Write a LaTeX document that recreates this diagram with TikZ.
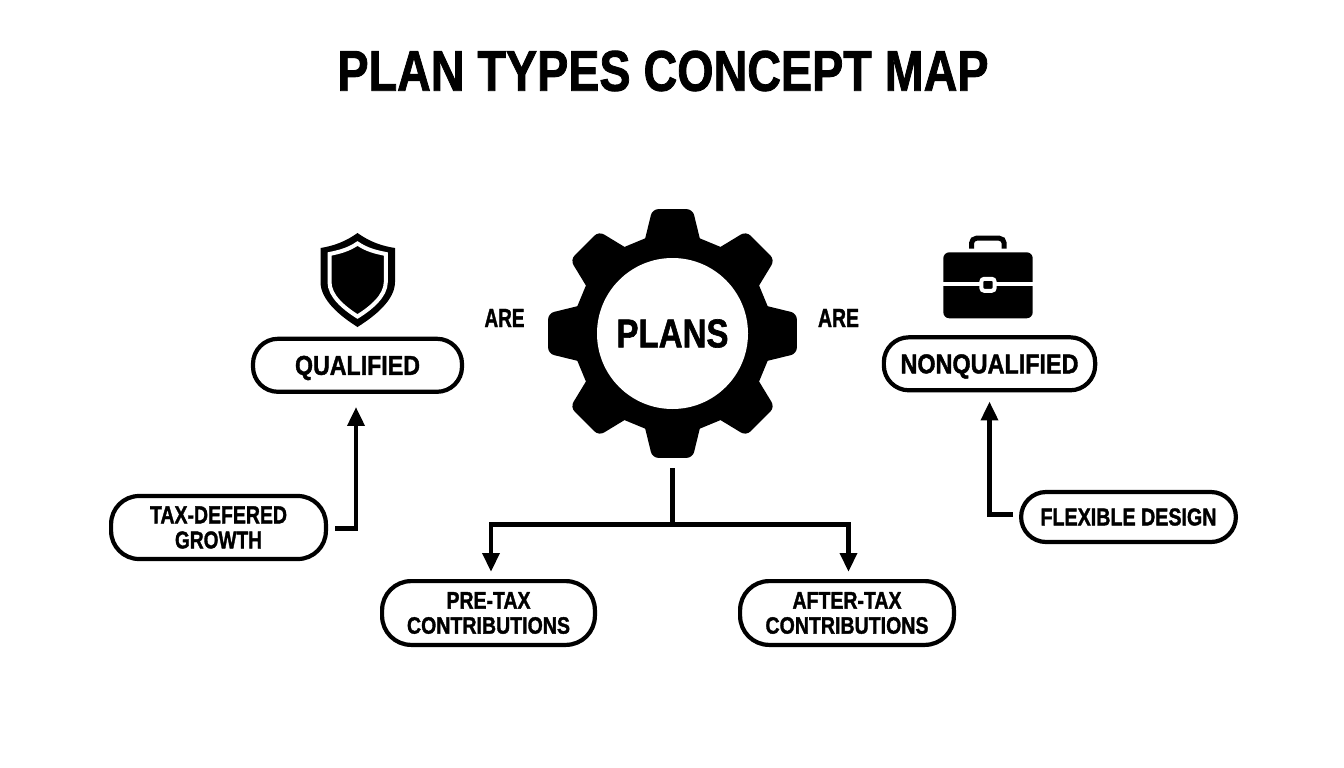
\documentclass[tikz,border=0pt]{standalone}
\usepackage{fontspec}
\usepackage{graphicx}
\usetikzlibrary{arrows.meta,calc}
\setmainfont{Liberation Sans}[BoldFont={Liberation Sans Bold},BoldFeatures={FakeBold=1.6}]
\newcommand{\tx}[3]{\resizebox{#1pt}{#2pt}{\bfseries #3}}
\newcommand{\nodp}[1]{\raisebox{0pt}[\height][0pt]{#1}}
\tikzset{
  x=1pt,y=-1pt,
  pill/.style={draw=black,line width=4.2pt,fill=white,rounded corners=25pt,inner sep=0pt,align=center,font=\bfseries\fontsize{22}{25}\selectfont},
  lbl/.style={inner sep=0pt,align=center,text=black},
  conn/.style={draw=black,line width=4.8pt,line join=miter,-{Triangle[length=19pt,width=16.5pt]}},
  trunk/.style={draw=black,line width=5pt},
}
\begin{document}
\begin{tikzpicture}
\useasboundingbox (0,0) rectangle (1344,768);
\fill[white] (0,0) rectangle (1344,768);
\node[lbl] (title) at (663,71) {\tx{651}{40}{PLAN TYPES CONCEPT MAP}};
% gear
\coordinate (gc) at (672.5,333.5);
\fill[black] (gc) ++(-106:99)
  \foreach \a in {-90,-45,0,45,90,135,180,225}{
    [sharp corners] -- ($(gc)+(\a-16:99)$)
    [rounded corners=6pt] -- ($(gc)+(\a-9.2:126)$) -- ($(gc)+(\a+9.2:126)$)
    [sharp corners] -- ($(gc)+(\a+16:99)$)
  } -- cycle;
\node[circle,fill=white,minimum size=151pt,inner sep=0pt] (plans) at (gc) {\tx{112}{28}{PLANS}};
\coordinate (gearb) at (672,468);
% shield
\fill[black] (357.5,233) .. controls (345,242) and (333,246) .. (320.5,248) -- (320.5,282) .. controls (320.5,300) and (340,316) .. (357.5,327) .. controls (375,316) and (395,300) .. (395,282) -- (395,248) .. controls (382,246) and (370,242) .. (357.5,233) -- cycle;
\draw[white,line width=4pt,fill=black] (357.5,243.5) .. controls (348,250) and (339,252) .. (329.5,254) -- (329.5,282) .. controls (329.5,296) and (344,308) .. (357.5,316.5) .. controls (371,308) and (385.8,296) .. (385.8,282) -- (385.8,254) .. controls (376,252) and (367,250) .. (357.5,243.5) -- cycle;
% briefcase
\draw[black,line width=5pt,rounded corners=5pt] (971.5,248.5) -- (971.5,238.2) -- (1004.2,238.2) -- (1004.2,248.5);
\fill[black,rounded corners=6pt] (943.3,252.3) rectangle (1032.7,318.3);
\draw[white,line width=4.4pt] (943,284) -- (1033,284);
\draw[white,line width=4pt,fill=black,rounded corners=3pt] (981.3,278.8) rectangle (994.7,290.8);
% labels
\node[lbl] (are1) at (504.5,318) {\tx{40}{18}{ARE}};
\node[lbl] (are2) at (838.5,318) {\tx{41}{18}{ARE}};
% pills
\node[pill,minimum width=209pt,minimum height=53pt] (qual) at (357.5,365.3) {\nodp{\tx{125}{19}{QUALIFIED}}};
\node[pill,minimum width=211.3pt,minimum height=53pt] (nonq) at (989.5,363.8) {\nodp{\tx{178}{19}{NONQUALIFIED}}};
\node[pill,rounded corners=28pt,minimum width=214.8pt,minimum height=63pt] (tax) at (218.5,527.5) {\tx{137}{17}{TAX-DEFERED}\\\tx{87}{17}{GROWTH}};
\node[pill,minimum width=214.8pt,minimum height=50pt] (flex) at (1128.5,517) {\tx{176}{17}{FLEXIBLE DESIGN}};
\node[pill,rounded corners=29pt,minimum width=212.8pt,minimum height=63.8pt] (pre) at (488.5,613) {\tx{84}{16.5}{PRE-TAX}\\\tx{163}{16.5}{CONTRIBUTIONS}};
\node[pill,rounded corners=29pt,minimum width=213.8pt,minimum height=63.8pt] (aft) at (847,613) {\tx{109}{16.5}{AFTER-TAX}\\\tx{163}{16.5}{CONTRIBUTIONS}};
% connectors
\coordinate (hub) at (672,524.5);
\draw[trunk] (gearb) -- (hub);
\draw[conn,shorten >=7pt] (hub) -| (pre.north -| 491,0);
\draw[conn,shorten >=7pt] (hub) -| (aft.north -| 848.5,0);
\draw[conn,shorten <=7pt,shorten >=13pt] ([yshift=-1pt]tax.east) -| (qual.south -| 356,0);
\draw[conn,shorten <=6pt,shorten >=9pt] ([yshift=2.7pt]flex.west) -| (nonq.south -| 989.5,0);
\end{tikzpicture}
\end{document}
